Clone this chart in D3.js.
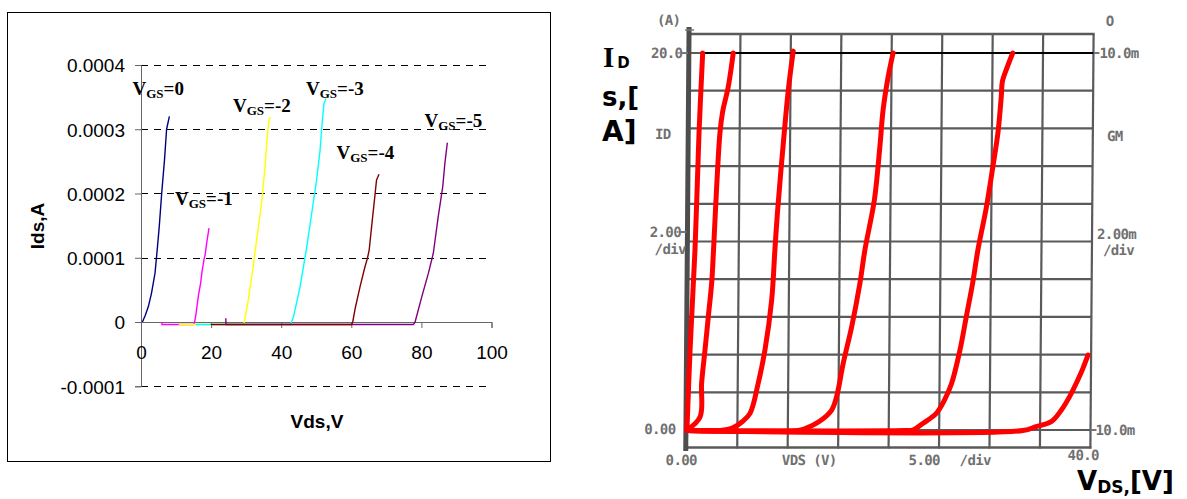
<!DOCTYPE html>
<html><head><meta charset="utf-8">
<script src="https://cdn.jsdelivr.net/npm/d3@7/dist/d3.min.js"></script>
<style>body{margin:0;background:#fff}svg{display:block}</style>
</head><body>
<svg id="c" width="1187" height="499"></svg>
<script>
// ---------------- LEFT CHART DATA (Vds [V], Ids [A]) ----------------
const xTicksL = [0, 20, 40, 60, 80, 100];
const yTicksL = [-0.0001, 0, 0.0001, 0.0002, 0.0003, 0.0004];
const yTickLabelsL = ["-0.0001", "0", "0.0001", "0.0002", "0.0003", "0.0004"];
const seriesNamesL = ["0", "-1", "-2", "-3", "-4", "-5"];
const seriesColorsL = ["#000080", "#ff00ff", "#ffff00", "#00ffff", "#800000", "#800080"];

const ids_vgs0 = [[0.4,0],[1.2,0.1e-4],[2.1,0.24e-4],[3.0,0.45e-4],[4.0,0.76e-4],[4.7,1.17e-4],[5.2,1.48e-4],[5.9,2.0e-4],[6.7,2.52e-4],[7.3,3.0e-4],[8.1,3.2e-4]];
const ids_vgs1 = [[5.9,0],[6.0,-0.4e-5],[15.0,-0.4e-5],[15.3,0],[15.7,0.13e-4],[16.4,0.42e-4],[17.0,0.6e-4],[17.4,0.78e-4],[18.0,0.98e-4],[18.3,1.05e-4],[18.8,1.25e-4],[19.4,1.46e-4]];
const ids_vgs2 = [[10.8,-0.4e-5],[29.2,-0.4e-5],[29.5,0],[30.6,0.34e-4],[32.0,0.86e-4],[33.0,1.28e-4],[34.4,1.85e-4],[35.4,2.42e-4],[36.1,2.94e-4],[36.6,3.17e-4],[37.1,3.18e-4]];
const ids_vgs3 = [[15.6,-0.4e-5],[42.7,-0.4e-5],[43.5,0.08e-4],[45.4,0.55e-4],[47.3,1.17e-4],[48.7,1.69e-4],[50.1,2.21e-4],[51.1,2.68e-4],[51.6,3.04e-4],[52.2,3.4e-4],[52.8,3.48e-4]];
const ids_vgs4 = [[19.9,-0.4e-5],[60.1,-0.4e-5],[60.4,0],[61.1,0.21e-4],[62.5,0.55e-4],[63.9,0.86e-4],[64.6,0.99e-4],[65.1,1.12e-4],[66.0,1.59e-4],[66.8,2.0e-4],[67.2,2.21e-4],[67.9,2.3e-4]];
const ids_vgs5 = [[24.2,0.6e-5],[24.25,-0.4e-5],[77.7,-0.4e-5],[78.2,0],[80.1,0.39e-4],[82.0,0.76e-4],[83.4,1.07e-4],[84.8,1.64e-4],[86.1,2.11e-4],[86.7,2.47e-4],[87.4,2.79e-4]];
const seriesL = [ids_vgs0, ids_vgs1, ids_vgs2, ids_vgs3, ids_vgs4, ids_vgs5];

// ---------------- RIGHT CHART DATA (VDS [V], ID [A]) ----------------
const xTicksR = [0, 5, 10, 15, 20, 25, 30, 35, 40];
const yTicksR = [0, 2, 4, 6, 8, 10, 12, 14, 16, 18, 20];
const idCurve1 = [[0,0],[0.25,4.24],[0.66,9.55],[0.97,15.76],[1.27,20.0]];
const idCurve2 = [[0,0],[1.29,0.69],[1.42,2.48],[1.73,4.24],[2.03,6.0],[2.34,7.8],[2.5,9.55],[2.76,12.9],[3.05,15.8],[3.3,16.9],[3.83,18.2],[4.3,20.0]];
const idCurve3 = [[0,-0.03],[3.3,-0.03],[4.6,0.13],[5.5,0.45],[6.24,0.88],[7.03,2.48],[7.67,4.24],[8.3,6.9],[8.58,9.55],[8.8,11.5],[9.33,15.2],[9.78,18.0],[10.24,20.1]];
const idCurve4 = [[0,-0.03],[11.0,-0.03],[11.72,0.08],[13.18,0.48],[14.33,1.06],[14.81,1.77],[15.44,3.54],[16.25,5.48],[17.03,7.78],[17.5,9.55],[18.4,12.2],[18.9,15.0],[19.2,17.0],[19.66,18.7],[20.14,20.0]];
const idCurve5 = [[0,-0.03],[21.5,-0.03],[22.4,0],[23.4,0.36],[24.7,0.88],[25.5,1.59],[26.2,2.48],[27.0,4.24],[27.6,6.01],[28.2,7.78],[28.7,9.55],[29.5,11.8],[30.1,13.9],[30.6,15.8],[30.9,17.7],[31.0,18.5],[31.5,19.3],[32.0,20.0]];
const idCurve6 = [[0,-0.03],[33.3,-0.03],[34.6,0.18],[36.1,0.44],[37.1,1.06],[37.9,1.77],[38.7,2.65],[39.2,3.27],[39.7,3.98]];
const seriesR = [idCurve1, idCurve2, idCurve3, idCurve4, idCurve5, idCurve6];
const limitLine = [[1.2,20],[40,20]];

const svg = d3.select("#c");

// ================= LEFT CHART =================
const xL = d3.scaleLinear().domain([0,100]).range([141,491.5]);
const yL = d3.scaleLinear().domain([-0.0001,0.0004]).range([386.25,65]);
const gL = svg.append("g");

gL.append("rect").attr("x",7.5).attr("y",12.5).attr("width",543).attr("height",449)
  .attr("fill","none").attr("stroke","#000").attr("stroke-width",1);

// dashed gridlines
gL.selectAll(".grid").data(yTicksL.filter(d=>d!==0)).enter().append("line")
  .attr("x1",xL(0)).attr("x2",xL(100)-4)
  .attr("y1",d=>Math.round(yL(d))+0.5).attr("y2",d=>Math.round(yL(d))+0.5)
  .attr("stroke","#000").attr("stroke-width",1).attr("stroke-dasharray","7,6");

// y axis
const yAxisL = d3.axisLeft(yL).tickValues(yTicksL).tickSize(6).tickFormat((d,i)=>yTickLabelsL[i]);
const gy = gL.append("g").attr("transform",`translate(${xL(0)},0)`).call(yAxisL);
gy.select(".domain").attr("stroke","#666");
gy.selectAll(".tick line").attr("stroke","#666");
gy.selectAll(".tick text").attr("font-family","Liberation Sans, Arial, sans-serif")
  .attr("font-size",19).attr("fill","#000").attr("x",-16).attr("dy","0.36em");

// x axis at Ids = 0
const xAxisL = d3.axisBottom(xL).tickValues(xTicksL).tickSize(6);
const gx = gL.append("g").attr("transform",`translate(0,${yL(0)})`).call(xAxisL);
gx.select(".domain").attr("stroke","#666");
gx.selectAll(".tick line").attr("stroke","#666");
gx.selectAll(".tick text").attr("font-family","Liberation Sans, Arial, sans-serif")
  .attr("font-size",19).attr("fill","#000").attr("y",24).attr("dy","0.71em");

// series (dark red drawn last so it lies over purple's flat part)
const lineL = d3.line().x(d=>xL(d[0])).y(d=>yL(d[1]));
[0,1,2,3,5,4].forEach(i=>{
  gL.append("path").datum(seriesL[i]).attr("d",lineL)
    .attr("fill","none").attr("stroke",seriesColorsL[i]).attr("stroke-width",1.4)
    .attr("stroke-linejoin","round");
});

// series labels
const labelPosL = [[132.5,95],[175,205],[233,112],[306,95],[336.5,159],[424.5,127]];
seriesNamesL.forEach((n,i)=>{
  const t = gL.append("text").attr("x",labelPosL[i][0]).attr("y",labelPosL[i][1])
    .attr("font-family","Liberation Serif, Times New Roman, serif").attr("font-weight","bold")
    .attr("font-size",19).attr("fill","#000");
  t.append("tspan").text("V");
  t.append("tspan").attr("font-size",13).attr("dy",3).text("GS");
  t.append("tspan").attr("dy",-3).text("=" + n);
});

// axis titles
gL.append("text").attr("transform","translate(44,226) rotate(-90)").attr("text-anchor","middle")
  .attr("font-family","Liberation Sans, Arial, sans-serif").attr("font-weight","bold")
  .attr("font-size",19).text("Ids,A");
gL.append("text").attr("x",317).attr("y",428).attr("text-anchor","middle")
  .attr("font-family","Liberation Sans, Arial, sans-serif").attr("font-weight","bold")
  .attr("font-size",19).text("Vds,V");

// ================= RIGHT CHART =================
const xR = d3.scaleLinear().domain([0,40]).range([688.4,1092]);
const yR = d3.scaleLinear().domain([0,20]).range([430,53]);
const gR = svg.append("g").attr("transform","translate(0,240) skewX(-0.447) translate(0,-240)");
const gridCol = "#5a5a5a";
const frameTop = 34, frameBot = 447.5;

// vertical grid lines
gR.selectAll(".vg").data(xTicksR.slice(1)).enter().append("line")
  .attr("x1",d=>xR(d)).attr("x2",d=>xR(d)).attr("y1",frameTop).attr("y2",frameBot+1)
  .attr("stroke",gridCol).attr("stroke-width",2.2);
// horizontal grid lines
gR.selectAll(".hg").data(yTicksR).enter().append("line")
  .attr("x1",xR(0)).attr("x2",xR(40)).attr("y1",d=>yR(d)).attr("y2",d=>yR(d))
  .attr("stroke",gridCol).attr("stroke-width",2.2);
// screen frame top / bottom
[frameTop, frameBot].forEach(y=>{
  gR.append("line").attr("x1",xR(0)).attr("x2",xR(40)+1).attr("y1",y).attr("y2",y)
    .attr("stroke",gridCol).attr("stroke-width",2.4);
});
// thick left axis
gR.append("line").attr("x1",xR(0)-1).attr("x2",xR(0)-1).attr("y1",27).attr("y2",451)
  .attr("stroke","#4d4d4d").attr("stroke-width",5);
gR.append("line").attr("x1",xR(0)-5).attr("x2",xR(0)+4).attr("y1",30).attr("y2",30)
  .attr("stroke","#777").attr("stroke-width",1.5);
// small label ticks
[yR(20), 232].forEach(y=>{
  gR.append("line").attr("x1",xR(0)-8).attr("x2",xR(0)-2).attr("y1",y).attr("y2",y)
    .attr("stroke","#777").attr("stroke-width",2);
});
[yR(20), yR(0)].forEach(y=>{
  gR.append("line").attr("x1",xR(40)).attr("x2",xR(40)+6).attr("y1",y).attr("y2",y)
    .attr("stroke","#777").attr("stroke-width",2);
});

// gray instrument labels
const grayLabels = [
  ["(A)",667,25,"middle"],["20.0",681,58,"end"],["ID",662,139,"middle"],
  ["2.00",681,237,"end"],["/div",686,254,"end"],["0.00",677,434,"end"],
  ["0.00",683,465,"middle"],["VDS (V)",811,465,"middle"],["5.00",926,465,"middle"],
  ["/div",977,465,"middle"],["40.0",1085,460,"middle"],
  ["O",1108,26,"middle"],["10.0m",1098,58,"start"],["GM",1114,141,"middle"],
  ["2.00m",1097,239,"start"],["/div",1103,255,"start"],["10.0m",1097,435,"start"]
];
grayLabels.forEach(([t,x,y,a])=>{
  gR.append("text").attr("x",x).attr("y",y).attr("text-anchor",a)
    .attr("font-family","DejaVu Sans Mono, monospace").attr("font-weight","bold")
    .attr("font-size",14).attr("letter-spacing",-0.6).attr("fill","#707070").text(t);
});

// black limit line at 20
const lineR = d3.line().x(d=>xR(d[0])).y(d=>yR(d[1]));
gR.append("path").datum(limitLine).attr("d",lineR).attr("stroke","#000").attr("stroke-width",2).attr("fill","none");

// red hand-drawn curves
const curveR = d3.line().x(d=>xR(d[0])).y(d=>yR(d[1])).curve(d3.curveCatmullRom.alpha(0.5));
seriesR.forEach(s=>{
  gR.append("path").datum(s).attr("d",curveR).attr("fill","none")
    .attr("stroke","#ff0000").attr("stroke-width",5)
    .attr("stroke-linecap","round").attr("stroke-linejoin","round");
});

// black axis captions
const cap = svg.append("g").attr("fill","#000").attr("font-weight","bold");
const t1 = cap.append("text").attr("x",603).attr("y",67);
t1.append("tspan").attr("font-family","Liberation Serif, serif").attr("font-size",29).text("I");
t1.append("tspan").attr("font-family","DejaVu Sans, sans-serif").attr("font-size",15).attr("dx",3).attr("dy",1).text("D");
cap.append("text").attr("x",602).attr("y",106).attr("font-family","DejaVu Sans, sans-serif").attr("font-size",26).text("s,[");
cap.append("text").attr("x",602).attr("y",141).attr("font-family","DejaVu Sans, sans-serif").attr("font-size",28).text("A]");
const t2 = cap.append("text").attr("x",1077).attr("y",490).attr("font-family","DejaVu Sans, sans-serif");
t2.append("tspan").attr("font-size",26).text("V");
t2.append("tspan").attr("font-size",17).attr("dy",3).text("DS,");
t2.append("tspan").attr("font-size",26).attr("dy",-3).text("[V]");
</script>
</body></html>
